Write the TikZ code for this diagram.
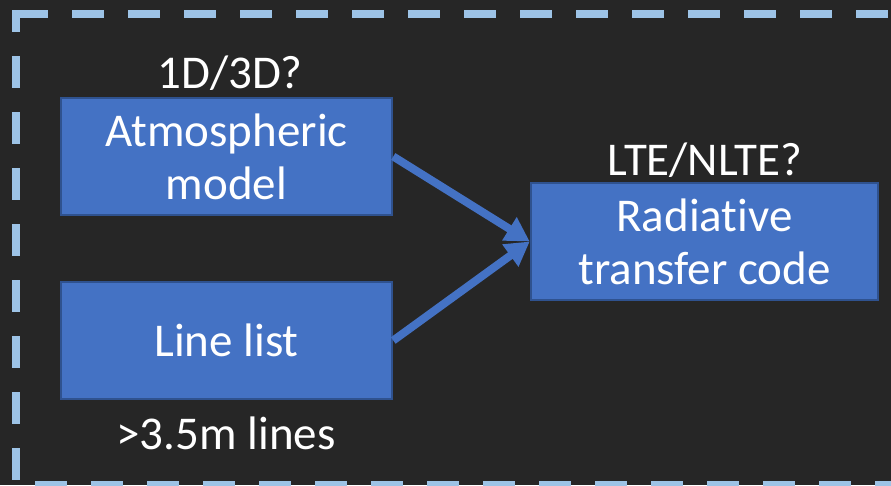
\documentclass[tikz,border=0pt]{standalone}
\usepackage{fontspec}
\setmainfont{Carlito}[Ligatures={NoCommon}]
\usetikzlibrary{arrows.meta}
\definecolor{bgdark}{HTML}{262626}
\definecolor{boxfill}{HTML}{4472C4}
\definecolor{boxedge}{HTML}{2F528F}
\definecolor{frameblue}{HTML}{9DC3E6}
\tikzset{
  block/.style={draw=boxedge, line width=2.5pt, fill=boxfill, text=white,
    inner sep=0pt, minimum height=117pt, align=center,
    font=\fontsize{47}{53}\selectfont},
  tag/.style={text=white, inner sep=0pt, anchor=base,
    font=\fontsize{47}{53}\selectfont},
  flow/.style={draw=boxfill, line width=8pt,
    -{Triangle[width=26pt,length=24pt]}},
  frame/.style={draw=frameblue, line width=8pt, dash pattern=on 32pt off 24pt}
}
\begin{document}
\begin{tikzpicture}[x=1pt,y=-1pt]
  \useasboundingbox (0,0) rectangle (891,485);
  \fill[bgdark] (0,0) rectangle (891,485);

  % dashed surround
  \draw[frame] (16,14) -- (900,14);
  \draw[frame, dash phase=14pt] (16,14) -- (16,490);
  \draw[frame, dash phase=37pt] (16,485) -- (900,485);
  \fill[frameblue] (12,10) rectangle (20,18);

  % boxes
  \node[block, minimum width=331pt] (atm) at (226.5,156.5) {Atmospheric\\model};
  \node[block, minimum width=331pt] (lines) at (226.5,340.5) {Line list};
  \node[block, minimum width=347pt] (rt) at (704.5,241.5) {Radiative\\transfer code};

  % labels above and below
  \node[tag] (dim) at (230,88) {1D/3D?};
  \node[tag] (lte) at (705,175) {LTE/NLTE?};
  \node[tag] (count) at (226,449) {>3.5m lines};

  % connectors
  \draw[flow] (atm.east) -- (rt.west);
  \draw[flow] (lines.east) -- (rt.west);
\end{tikzpicture}
\end{document}
